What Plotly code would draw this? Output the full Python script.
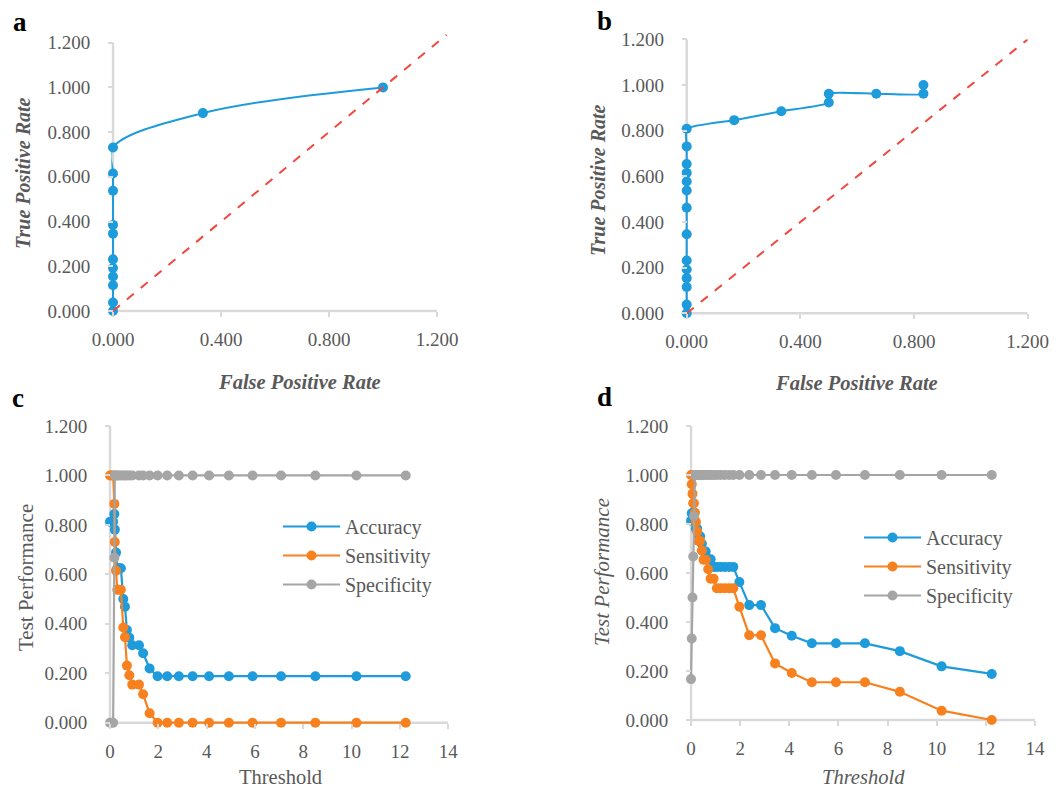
import plotly.graph_objects as go

W, H = 1060, 787
FONT = "Liberation Serif"
BLUE = "#1E9BDB"
ORANGE = "#F7811E"
GRAY = "#A5A5A5"
AXC = "#D9D9D9"
TXT = "#595959"

# ---------------- data ----------------
# Panel a (ROC)
fpr_a = [0, 0, 0, 0, 0, 0, 0, 0, 0, 0, 0, 0.333, 1.0]
tpr_a = [0, 0.038, 0.115, 0.154, 0.192, 0.231, 0.346, 0.385, 0.538, 0.615, 0.731, 0.885, 1.0]
diag_a = [0, 1.235]

# Panel b (ROC)
fpr_b = [0, 0, 0, 0, 0, 0, 0, 0, 0, 0, 0, 0, 0, 0,
         0.167, 0.333, 0.5, 0.5, 0.667, 0.833, 0.833]
tpr_b = [0, 0.038, 0.115, 0.154, 0.192, 0.231, 0.346, 0.462, 0.538, 0.577, 0.615, 0.654, 0.731, 0.808,
         0.846, 0.885, 0.923, 0.962, 0.962, 0.962, 1.0]
diag_b = [0, 1.2]

roc_ticks = [0, 0.4, 0.8, 1.2]
perf_yticks = [0, 0.2, 0.4, 0.6, 0.8, 1.0, 1.2]
thr_ticks = [0, 2, 4, 6, 8, 10, 12, 14]

# Panel c (test performance vs threshold)
thr_c = [0, 0.07, 0.13, 0.18, 0.20, 0.25, 0.30, 0.37, 0.45, 0.55, 0.62, 0.70, 0.80, 0.92,
         1.20, 1.37, 1.64, 1.97, 2.37, 2.85, 3.42, 4.10, 4.92, 5.90, 7.08, 8.50, 10.20, 12.24]
acc_c = [0.813, 0.813, 0.813, 0.844, 0.781, 0.688, 0.625, 0.625, 0.625, 0.500, 0.469, 0.375, 0.344, 0.313,
         0.313, 0.281, 0.219, 0.188, 0.188, 0.188, 0.188, 0.188, 0.188, 0.188, 0.188, 0.188, 0.188, 0.188]
sens_c = [1.0, 1.0, 1.0, 0.885, 0.731, 0.615, 0.538, 0.538, 0.538, 0.385, 0.346, 0.231, 0.192, 0.154,
          0.154, 0.115, 0.038, 0, 0, 0, 0, 0, 0, 0, 0, 0, 0, 0]
spec_c = [0, 0, 0, 0.667, 1, 1, 1, 1, 1, 1, 1, 1, 1, 1,
          1, 1, 1, 1, 1, 1, 1, 1, 1, 1, 1, 1, 1, 1]

# Panel d (test performance vs threshold)
thr_d = [0, 0.03, 0.06, 0.09, 0.12, 0.16, 0.20, 0.25, 0.30, 0.37, 0.44, 0.51, 0.60, 0.70, 0.80, 0.92,
         1.05, 1.20, 1.37, 1.55, 1.72, 1.97, 2.37, 2.85, 3.42, 4.10, 4.92, 5.90, 7.08, 8.50, 10.20, 12.24]
acc_d = [0.813, 0.844, 0.844, 0.844, 0.813, 0.813, 0.781, 0.781, 0.750, 0.750, 0.719, 0.688, 0.688, 0.656, 0.656, 0.625,
         0.625, 0.625, 0.625, 0.625, 0.625, 0.563, 0.469, 0.469, 0.375, 0.344, 0.313, 0.313, 0.313, 0.281, 0.219, 0.188]
sens_d = [1.000, 0.962, 0.923, 0.885, 0.885, 0.846, 0.808, 0.769, 0.731, 0.731, 0.692, 0.654, 0.654, 0.615, 0.577, 0.577,
          0.538, 0.538, 0.538, 0.538, 0.538, 0.462, 0.346, 0.346, 0.231, 0.192, 0.154, 0.154, 0.154, 0.115, 0.038, 0.000]
spec_d = [0.167, 0.333, 0.5, 0.667, 0.833, 1, 1, 1, 1, 1, 1, 1, 1, 1, 1, 1,
          1, 1, 1, 1, 1, 1, 1, 1, 1, 1, 1, 1, 1, 1, 1, 1]

# ---------------- layout geometry (pixel of value 0 and px per unit) ----------------
panels = {
    "a": dict(x0=113, xs=270.0, y0=311, ys=223.6, xr=[-0.006, 1.25], yr=[-0.008, 1.25], xmax=1.2, ymax=1.2),
    "b": dict(x0=686.7, xs=284.2, y0=313.3, ys=228.3, xr=[-0.006, 1.2], yr=[-0.008, 1.2], xmax=1.2, ymax=1.2),
    "c": dict(x0=110, xs=24.16, y0=722.7, ys=247.25, xr=[-0.07, 14.0], yr=[-0.008, 1.2], xmax=14, ymax=1.2),
    "d": dict(x0=691, xs=24.57, y0=720, ys=245.0, xr=[-0.07, 14.0], yr=[-0.008, 1.2], xmax=14, ymax=1.2),
}

fig = go.Figure()

def add_axes(n, key, xticks, yticks, xfmt, yfmt):
    p = panels[key]
    xd = [(p["x0"] + p["xr"][0] * p["xs"]) / W, (p["x0"] + p["xr"][1] * p["xs"]) / W]
    yd = [1 - (p["y0"] - p["yr"][0] * p["ys"]) / H, 1 - (p["y0"] - p["yr"][1] * p["ys"]) / H]
    sfx = "" if n == 1 else str(n)
    tf = dict(family=FONT, size=19, color=TXT)
    fig.update_layout(**{
        "xaxis" + sfx: dict(domain=xd, range=p["xr"], tickvals=xticks, tickformat=xfmt,
                            ticks="outside", ticklen=5, tickwidth=1.5, tickcolor=AXC,
                            showgrid=False, zeroline=False, showline=False,
                            anchor="free", position=1 - p["y0"] / H, automargin=False,
                            tickfont=tf, ticklabelstandoff=6, fixedrange=True),
        "yaxis" + sfx: dict(domain=yd, range=p["yr"], tickvals=yticks, tickformat=yfmt,
                            ticks="outside", ticklen=5, tickwidth=1.5, tickcolor=AXC,
                            showgrid=False, zeroline=False, showline=False,
                            anchor="free", position=p["x0"] / W, automargin=False,
                            tickfont=tf, ticklabelstandoff=14, fixedrange=True),
    })
    xr = "x" + sfx
    yr = "y" + sfx
    fig.add_shape(type="line", xref=xr, yref=yr, x0=0, y0=0, x1=p["xmax"], y1=0,
                  line=dict(color=AXC, width=2.5), layer="below")
    fig.add_shape(type="line", xref=xr, yref=yr, x0=0, y0=0, x1=0, y1=p["ymax"],
                  line=dict(color=AXC, width=2.5), layer="below")
    return xr, yr

xa, ya = add_axes(1, "a", roc_ticks, perf_yticks, ".3f", ".3f")
xb, yb = add_axes(2, "b", roc_ticks, perf_yticks, ".3f", ".3f")
xc, yc = add_axes(3, "c", thr_ticks, perf_yticks, "d", ".3f")
xd_, yd_ = add_axes(4, "d", thr_ticks, perf_yticks, "d", ".3f")

mk = dict(size=10, color=BLUE)

# a
fig.add_trace(go.Scatter(x=fpr_a, y=tpr_a, mode="lines+markers", xaxis=xa, yaxis=ya,
                         line=dict(color=BLUE, width=2, shape="spline", smoothing=1.0),
                         marker=mk, cliponaxis=False, showlegend=False))
fig.add_trace(go.Scatter(x=diag_a, y=diag_a, mode="lines", xaxis=xa, yaxis=ya,
                         line=dict(color="#F0483E", width=2, dash="dash"), showlegend=False))
# b
fig.add_trace(go.Scatter(x=fpr_b, y=tpr_b, mode="lines+markers", xaxis=xb, yaxis=yb,
                         line=dict(color=BLUE, width=2, shape="spline", smoothing=0.5),
                         marker=mk, cliponaxis=False, showlegend=False))
fig.add_trace(go.Scatter(x=diag_b, y=diag_b, mode="lines", xaxis=xb, yaxis=yb,
                         line=dict(color="#F0483E", width=2, dash="dash"), showlegend=False))

# c and d
for (xx, yy, thr, acc, sens, spec, lg) in [
    (xc, yc, thr_c, acc_c, sens_c, spec_c, "legend"),
    (xd_, yd_, thr_d, acc_d, sens_d, spec_d, "legend2"),
]:
    for name, vals, col in [("Accuracy", acc, BLUE), ("Sensitivity", sens, ORANGE), ("Specificity", spec, GRAY)]:
        fig.add_trace(go.Scatter(x=thr, y=vals, name=name, mode="lines+markers", xaxis=xx, yaxis=yy,
                                 line=dict(color=col, width=2.2),
                                 marker=dict(size=10, color=col), cliponaxis=False,
                                 legend=lg, legendgroup=lg + name))

legfont = dict(family=FONT, size=20, color=TXT)
fig.update_layout(
    legend=dict(x=278 / W, y=1 - 507 / H, xanchor="left", yanchor="top", font=legfont,
                bgcolor="rgba(0,0,0,0)", tracegroupgap=0, itemwidth=57),
    legend2=dict(x=859 / W, y=1 - 518 / H, xanchor="left", yanchor="top", font=legfont,
                 bgcolor="rgba(0,0,0,0)", tracegroupgap=0, itemwidth=57),
)

# annotations: panel labels and axis titles
def ann(text, px, py, size, bold=False, italic=False, angle=0, color=TXT):
    t = text
    if bold:
        t = "<b>" + t + "</b>"
    if italic:
        t = "<i>" + t + "</i>"
    fig.add_annotation(text=t, x=px / W, y=1 - py / H, xref="paper", yref="paper",
                       xanchor="center", yanchor="middle", showarrow=False, textangle=angle,
                       font=dict(family=FONT, size=size, color=color))

for lab, px, py in [("a", 20, 22), ("b", 604, 21), ("c", 18, 398), ("d", 604, 397)]:
    ann(lab, px, py, 27, bold=True, color="#000000")

ann("True Positive Rate", 23, 173, 20, bold=True, italic=True, angle=-90)
ann("False Positive Rate", 299, 382, 20.5, bold=True, italic=True)
ann("True Positive Rate", 598, 180, 20, bold=True, italic=True, angle=-90)
ann("False Positive Rate", 856, 383, 20.5, bold=True, italic=True)
ann("Test Performance", 26, 578, 21, angle=-90)
ann("Threshold", 280, 777, 20.5)
ann("Test Performance", 602, 572, 21, italic=True, angle=-90)
ann("Threshold", 863, 777, 20.5, italic=True)

fig.update_layout(width=W, height=H, margin=dict(l=0, r=0, t=0, b=0, autoexpand=False),
                  paper_bgcolor="white", plot_bgcolor="white")

fig.write_html("out.html")
